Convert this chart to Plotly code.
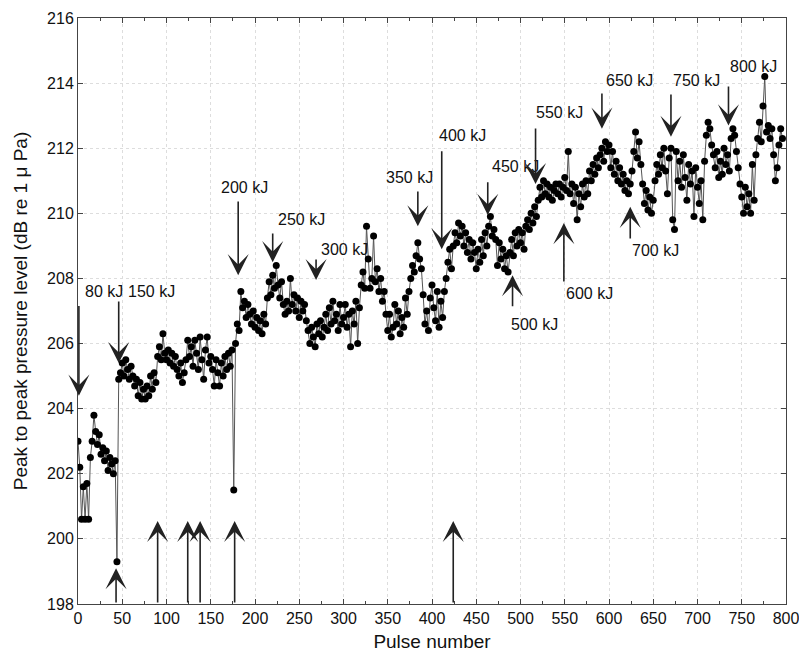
import plotly.graph_objects as go

# Peak-to-peak pressure level per pulse (every 2nd pulse)
level_000 = [203.0, 202.2, 200.6, 201.6, 200.6, 201.7, 200.6, 202.5, 203.0, 203.8, 203.3, 202.9, 203.2,
             202.6, 202.8, 202.4, 202.7, 202.1, 202.5, 202.3, 202.0, 202.4, 199.3, 204.9, 205.1]
level_050 = [205.4, 205.0, 205.5, 205.2, 204.9, 205.3, 205.0, 204.7, 204.9, 204.4, 204.8, 204.3, 204.6,
             204.3, 204.7, 204.4, 205.0, 204.6, 205.1, 204.8, 205.6, 205.9, 205.5, 206.3, 205.7]
level_100 = [205.5, 205.8, 205.4, 205.7, 205.3, 205.6, 205.2, 205.0, 205.4, 204.8, 205.1, 205.5, 206.1,
             205.6, 205.9, 205.3, 206.1, 205.7, 205.2, 206.2, 205.5, 204.9, 205.8, 206.2, 205.4]
level_150 = [205.6, 205.2, 204.7, 205.5, 205.1, 204.7, 205.4, 205.0, 205.6, 205.2, 205.7, 205.3, 205.8,
             201.5, 206.0, 206.6, 206.4, 207.6, 207.1, 207.3, 206.8, 207.2, 206.9, 206.6, 207.0]
level_200 = [206.5, 206.8, 206.4, 206.7, 206.3, 206.9, 206.6, 207.4, 207.9, 207.5, 208.1, 207.7, 208.4,
             207.8, 207.4, 207.9, 207.2, 206.9, 207.3, 207.0, 208.0, 207.2, 207.5, 207.0, 207.4]
level_250 = [206.8, 207.3, 207.0, 207.2, 206.7, 206.4, 206.0, 206.5, 206.2, 205.9, 206.6, 206.3, 206.7,
             206.2, 206.5, 206.9, 206.4, 207.1, 206.6, 207.3, 206.7, 206.9, 206.4, 207.2, 206.6]
level_300 = [206.8, 207.2, 206.5, 206.9, 205.9, 207.0, 206.6, 207.3, 206.0, 207.1, 207.8, 208.2, 207.7,
             209.6, 208.6, 207.7, 208.0, 209.3, 207.9, 208.3, 207.6, 208.0, 207.3, 207.6, 206.9]
level_350 = [206.4, 206.9, 206.2, 206.5, 207.2, 206.6, 207.0, 206.3, 206.8, 206.5, 207.4, 206.9, 207.6,
             208.0, 208.4, 208.2, 208.7, 209.1, 208.6, 208.3, 207.5, 206.6, 207.0, 206.4, 207.4]
level_400 = [207.8, 207.1, 206.7, 207.6, 206.5, 207.3, 206.8, 207.6, 208.0, 208.5, 208.9, 208.3, 209.0,
             209.4, 209.1, 209.7, 209.3, 209.6, 209.0, 209.4, 208.8, 209.2, 208.6, 209.1, 208.8]
level_450 = [208.3, 208.9, 208.5, 209.2, 208.7, 209.4, 209.0, 209.6, 209.9, 209.3, 209.5, 209.2, 208.4,
             209.1, 208.6, 208.9, 208.3, 208.7, 208.2, 208.8, 209.2, 208.7, 209.4, 209.0, 209.5]
level_500 = [209.1, 209.4, 208.9, 209.6, 209.8, 209.5, 210.0, 209.7, 210.2, 209.9, 210.4, 210.8, 210.5,
             211.0, 210.6, 210.9, 210.5, 210.8, 210.4, 210.7, 210.9, 210.6, 210.9, 210.5, 210.8]
level_550 = [211.1, 210.7, 211.9, 210.6, 210.9, 210.3, 210.8, 209.8, 210.6, 210.2, 210.9, 210.5, 211.0,
             210.6, 211.3, 211.0, 211.5, 211.2, 211.7, 211.4, 211.8, 212.0, 211.6, 212.2, 211.9]
level_600 = [212.1, 211.4, 211.9, 211.2, 211.6, 211.0, 211.4, 210.9, 211.2, 210.7, 211.0, 210.6, 210.9,
             211.3, 211.9, 212.5, 211.7, 212.2, 211.5, 210.9, 210.3, 210.7, 210.1, 210.5, 210.0]
level_650 = [210.4, 211.0, 211.5, 211.2, 211.8, 211.4, 212.0, 211.3, 210.6, 211.7, 212.0, 209.8, 209.5,
             211.9, 211.0, 211.6, 210.8, 211.8, 211.1, 210.4, 211.5, 210.9, 211.3, 209.9, 211.4]
level_700 = [210.8, 210.3, 211.0, 209.8, 211.6, 212.4, 212.8, 212.6, 212.1, 211.8, 211.4, 211.9, 211.1,
             211.6, 211.2, 212.0, 211.5, 211.8, 211.3, 212.3, 212.6, 212.4, 211.9, 211.4, 210.9]
level_750 = [210.5, 210.0, 210.8, 210.2, 210.6, 210.0, 211.5, 210.4, 211.8, 212.3, 212.8, 212.2, 213.3,
             214.2, 212.5, 212.7, 212.3, 212.6, 211.8, 211.0, 211.4, 212.1, 212.6, 212.3]

levels = (level_000 + level_050 + level_100 + level_150 + level_200 + level_250 + level_300 + level_350
          + level_400 + level_450 + level_500 + level_550 + level_600 + level_650 + level_700 + level_750)
pulses = list(range(0, 2 * len(levels), 2))

# Energy labels: text, label position, arrow x, arrow tail y, arrow tip y
labels = ["80 kJ", "150 kJ", "200 kJ", "250 kJ", "300 kJ", "350 kJ", "400 kJ", "450 kJ",
          "500 kJ", "550 kJ", "600 kJ", "650 kJ", "700 kJ", "750 kJ", "800 kJ"]
label_x = [29.4, 83.6, 187.6, 253, 300.6, 375, 434, 494, 516, 544.6, 578.5, 622.6, 652, 699.4, 763.8]
label_y = [207.6, 207.6, 210.8, 209.8, 208.9, 211.1, 212.4, 211.45, 206.6, 213.1, 207.55, 214.07,
           208.85, 214.07, 214.5]
arrow_x = [1, 46, 181, 220, 269, 384, 411, 463, 491, 517, 549, 592, 624, 670, 735]
arrow_tail = [207.2, 207.34, 210.41, 209.43, 208.63, 210.72, 211.95, 211.0, 207.1, 212.65, 207.86,
              213.73, 209.18, 213.7, 213.94]
arrow_tip = [204.4, 205.4, 208.1, 208.5, 207.95, 209.6, 208.9, 209.95, 208.1, 210.9, 209.7, 212.6,
             210.2, 212.35, 212.7]

# Bottom markers (upward arrows from the axis)
low_x = [43, 90, 124, 138, 177, 424]
low_tip = [199.1, 200.55, 200.55, 200.55, 200.55, 200.55]
low_tail = [198.0, 198.0, 198.0, 198.0, 198.0, 198.0]

FONT = "Liberation Sans, Arial, sans-serif"

fig = go.Figure()
fig.add_trace(go.Scatter(
    x=pulses, y=levels, mode="lines+markers",
    line=dict(color="#555555", width=1),
    marker=dict(color="black", size=7),
    showlegend=False,
))

ann = []
for t, lx, ly in zip(labels, label_x, label_y):
    ann.append(dict(x=lx, y=ly, xref="x", yref="y", text=t, showarrow=False,
                    font=dict(family=FONT, size=16, color="#111111")))
for x, tl, tp in zip(arrow_x + low_x, arrow_tail + low_tail, arrow_tip + low_tip):
    ann.append(dict(x=x, y=tp, ax=x, ay=tl, xref="x", yref="y", axref="x", ayref="y",
                    text="", showarrow=True, arrowhead=3, arrowsize=2.2, arrowwidth=1.6,
                    arrowcolor="#222222", standoff=0, startstandoff=0))

axis_common = dict(
    showline=True, linecolor="#444444", linewidth=1, mirror="ticks",
    ticks="inside", ticklen=5, tickcolor="#444444",
    showgrid=True, gridcolor="#dddddd", griddash="dot", gridwidth=1,
    zeroline=False, automargin=False, ticklabeloverflow="allow",
    tickfont=dict(family=FONT, size=16, color="#111111"),
    title_font=dict(family=FONT, size=19, color="#111111"),
)

fig.update_layout(
    width=799, height=662,
    margin=dict(l=78, r=13, t=18, b=58),
    paper_bgcolor="white", plot_bgcolor="white",
    annotations=ann,
    xaxis=dict(range=[0, 800], dtick=50, tick0=0, title=dict(text="Pulse number", standoff=8),
               minor=dict(ticks="inside", dtick=25, ticklen=3, tickcolor="#444444", showgrid=False),
               **axis_common),
    yaxis=dict(range=[198, 216], dtick=2, tick0=198,
               title=dict(text="Peak to peak pressure level (dB re 1 \u03bc Pa)", standoff=14),
               **axis_common),
)

fig.write_html("out.html")
